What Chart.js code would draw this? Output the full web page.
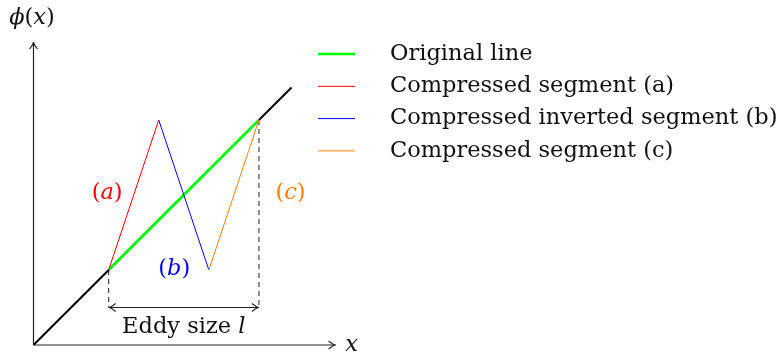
<!DOCTYPE html>
<html>
<head>
<meta charset="utf-8">
<script src="https://cdn.jsdelivr.net/npm/chart.js@4.4.0/dist/chart.umd.min.js"></script>
<style>
  html, body { margin: 0; padding: 0; background: #fff; }
  #wrap { width: 777px; height: 352px; }
</style>
</head>
<body>
<div id="wrap"><canvas id="eddy"></canvas></div>
<script>
// legend series: the original line and the three compressed pieces
const seriesNames = ['Original line', 'Compressed segment (a)', 'Compressed inverted segment (b)', 'Compressed segment (c)'];
const seriesColors = ['#00ff00', '#ff0000', '#0000ff', '#ff8000'];
const seriesX = [[1.5, 4.5], [1.5, 2.5], [2.5, 3.5], [3.5, 4.5]];
const seriesY = [[1.5, 4.5], [1.5, 4.5], [4.5, 1.5], [1.5, 4.5]];

// phi(x) = x over the whole plot
const baseX = [0, 5.15];
const baseY = [0, 5.15];

// eddy extent, marked below the line
const eddyX = [1.5, 4.5];
const eddyTop = [1.5, 4.5];
const eddyArrowY = 0.75;

// axis extents
const axisX = [0, 6.03];
const axisY = [0, 6.06];

const FONT = 'DejaVu Serif';
const FSIZE = 22.5;

// text placed in data units; each piece is [text, italic]
const notes = [
  { parts: [['(', 0], ['a', 1], [')', 0]], x: 1.47, y: 3.04, color: '#ff0000' },
  { parts: [['(', 0], ['b', 1], [')', 0]], x: 2.81, y: 1.52, color: '#0000ff' },
  { parts: [['(', 0], ['c', 1], [')', 0]], x: 5.13, y: 3.04, color: '#ff8000' },
  { parts: [['Eddy size ', 0], ['l', 1]], x: 3.0, y: 0.35, color: '#111' },
  { parts: [['x', 1]], x: 6.35, y: 0.0, color: '#111' },
  { parts: [['ϕ', 1], ['(', 0], ['x', 1], [')', 0]], x: -0.03, y: 6.54, color: '#111' }
];

const pts = (xs, ys) => xs.map((x, i) => ({ x: x, y: ys[i] }));

function lineSet(label, data, color, width, order, dash) {
  return {
    label: label,
    data: data,
    showLine: true,
    borderColor: color,
    borderWidth: width,
    borderDash: dash || [],
    pointRadius: 0,
    fill: false,
    order: order
  };
}

const datasets = [
  lineSet('axis-x', pts(axisX, [0, 0]), '#222', 1.2, 20),
  lineSet('axis-y', pts([0, 0], axisY), '#222', 1.2, 20),
  lineSet('base', pts(baseX, baseY), '#000', 2, 10),
  lineSet('eddy-left', pts([eddyX[0], eddyX[0]], [eddyTop[0], eddyArrowY]), '#444', 1.2, 15, [5, 4]),
  lineSet('eddy-right', pts([eddyX[1], eddyX[1]], [eddyTop[1], eddyArrowY]), '#444', 1.2, 15, [5, 4]),
  lineSet('eddy-span', pts(eddyX, [eddyArrowY, eddyArrowY]), '#222', 1.2, 15)
];
seriesNames.forEach((name, i) => {
  datasets.push(lineSet(name, pts(seriesX[i], seriesY[i]), seriesColors[i], i === 0 ? 2.5 : 1, i === 0 ? 5 : 4 - i));
});

function drawRuns(ctx, parts, cx, cy, color) {
  let w = 0;
  parts.forEach(p => {
    ctx.font = (p[1] ? 'italic ' : '') + FSIZE + 'px "' + FONT + '"';
    w += ctx.measureText(p[0]).width;
  });
  let x = cx - w / 2;
  ctx.fillStyle = color;
  ctx.textBaseline = 'middle';
  ctx.textAlign = 'left';
  parts.forEach(p => {
    ctx.font = (p[1] ? 'italic ' : '') + FSIZE + 'px "' + FONT + '"';
    ctx.fillText(p[0], x, cy);
    x += ctx.measureText(p[0]).width;
  });
}

function arrowHead(ctx, x, y, dx, dy) {
  // small open "to" style tip pointing along (dx, dy)
  const len = 7, half = 4;
  const px = -dy, py = dx;
  ctx.beginPath();
  ctx.moveTo(x - dx * len + px * half, y - dy * len + py * half);
  ctx.quadraticCurveTo(x - dx * 2, y - dy * 2, x, y);
  ctx.quadraticCurveTo(x - dx * 2, y - dy * 2, x - dx * len - px * half, y - dy * len - py * half);
  ctx.stroke();
}

const decorations = {
  id: 'decorations',
  afterDatasetsDraw(chart) {
    const ctx = chart.ctx;
    const sx = chart.scales.x, sy = chart.scales.y;
    ctx.save();
    ctx.lineWidth = 1.2;
    ctx.strokeStyle = '#222';
    arrowHead(ctx, sx.getPixelForValue(axisX[1]), sy.getPixelForValue(0), 1, 0);
    arrowHead(ctx, sx.getPixelForValue(0), sy.getPixelForValue(axisY[1]), 0, -1);
    const ay = sy.getPixelForValue(eddyArrowY);
    arrowHead(ctx, sx.getPixelForValue(eddyX[0]), ay, -1, 0);
    arrowHead(ctx, sx.getPixelForValue(eddyX[1]), ay, 1, 0);

    notes.forEach(n => drawRuns(ctx, n.parts, sx.getPixelForValue(n.x), sy.getPixelForValue(n.y), n.color));

    // legend
    const lx0 = 318, lx1 = 355, tx = 390, top = 54, step = 32.3;
    seriesNames.forEach((name, i) => {
      const y = top + i * step;
      ctx.strokeStyle = seriesColors[i];
      ctx.lineWidth = i === 0 ? 2.5 : 1;
      ctx.beginPath();
      ctx.moveTo(lx0, y);
      ctx.lineTo(lx1, y);
      ctx.stroke();
      ctx.font = FSIZE + 'px "' + FONT + '"';
      ctx.fillStyle = '#111';
      ctx.textAlign = 'left';
      ctx.textBaseline = 'middle';
      ctx.fillText(name, tx, y);
    });
    ctx.restore();
  }
};

new Chart(document.getElementById('eddy'), {
  type: 'scatter',
  data: { datasets: datasets },
  options: {
    responsive: true,
    maintainAspectRatio: false,
    animation: false,
    clip: false,
    layout: { padding: { left: 33.5, right: 442.9, top: 45, bottom: 7 } },
    scales: {
      x: { type: 'linear', min: 0, max: 6, display: false },
      y: { type: 'linear', min: 0, max: 6, display: false }
    },
    plugins: {
      legend: { display: false },
      tooltip: { enabled: false }
    }
  },
  plugins: [decorations]
});
</script>
</body>
</html>
